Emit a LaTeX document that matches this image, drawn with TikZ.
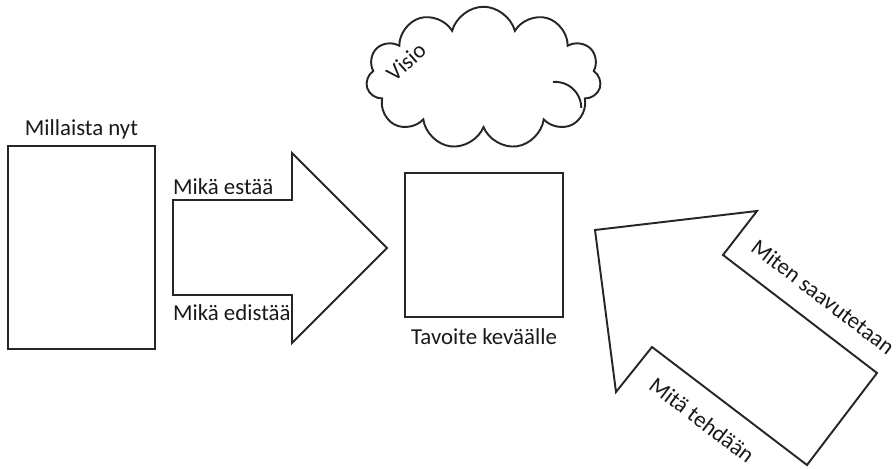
\documentclass[tikz,border=0pt]{standalone}
\usepackage{fontspec}
\setmainfont{Carlito}
\usepackage{tikz}
\usetikzlibrary{shapes.symbols}
\tikzset{
	box/.style={draw=black!85, line width=1.1pt, inner sep=0pt},
	lbl/.style={font=\fontsize{13}{15}\selectfont, text=black!90, inner sep=1pt},
	arrowshape/.style={draw=black!85, line width=1.1pt, line join=miter}
}

\begin{document}
\begin{tikzpicture}[x=0.02cm, y=-0.02cm]
		%%%%% START %%%%%
		\useasboundingbox (0, 0) rectangle (896, 469);
		
		% nykytila
		\node[box, minimum width=2.94cm, minimum height=4.06cm] (nyt) at (81.5, 247.5) {};
		\node[lbl, above=2pt] (nytlbl) at (nyt.north) {Millaista nyt};
		
		% iso nuoli oikealle
		\draw[arrowshape] (173, 200) -- (292, 200) -- (292, 153) -- (387, 248)
			-- (292, 343) -- (292, 295) -- (173, 295) -- cycle;
		\node[lbl, anchor=west] (esto) at (171, 187) {Mikä estää};
		\node[lbl, anchor=west] (edistys) at (171, 313) {Mikä edistää};
		
		% tavoite
		\node[box, minimum width=3.16cm, minimum height=2.88cm] (tavoite) at (484, 245) {};
		\node[lbl, below=5pt] (tavoitelbl) at (tavoite.south) {Tavoite keväälle};
		
		% visio
		\node[cloud, draw=black!85, line width=1.1pt, cloud puffs=11, aspect=1.65,
			minimum width=4.7cm, minimum height=2.85cm, inner sep=0pt] (visio) at (483.5, 78) {};
		\draw[line width=1.1pt, black!85] (553, 82) arc (-95:0:26);
		\node[lbl, rotate=42] (visiolbl) at (406, 62) {Visio};
		
		% vino nuoli
		\draw[arrowshape] (595, 230) -- (757, 211) -- (723, 255) -- (877, 373)
			-- (807, 465) -- (652, 347) -- (616, 392) -- cycle;
		\node[lbl, rotate=-37.5] (keino) at (823, 297) {Miten saavutetaan};
		\node[lbl, rotate=-37.5] (teko) at (702, 420) {Mitä tehdään};
		
		%%%%% END %%%%%
	\end{tikzpicture}
\end{document}
